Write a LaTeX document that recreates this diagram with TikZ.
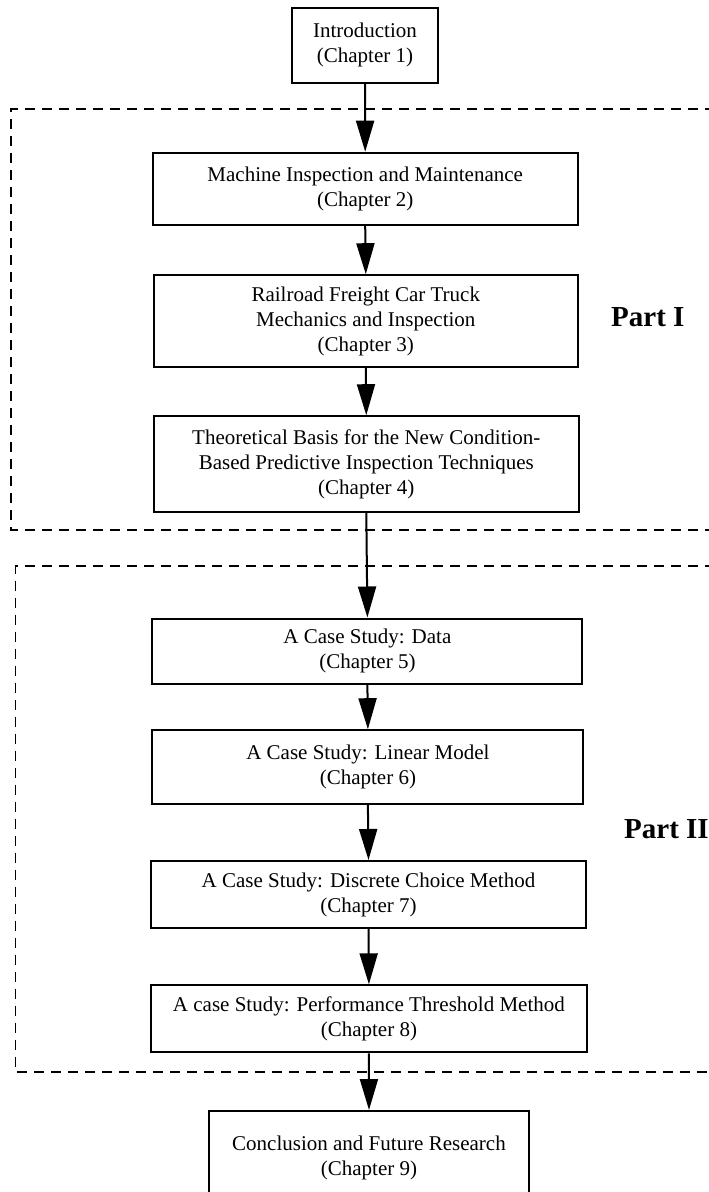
\documentclass[tikz,border=0pt]{standalone}
\usepackage{fontspec}
\setmainfont{Liberation Serif}
\usetikzlibrary{arrows.meta}
\begin{document}
\begin{tikzpicture}[x=1pt,y=-1pt,
  chapbox/.style={draw, line width=2pt, inner sep=0pt, align=center,
    font=\fontsize{21}{25}\selectfont},
  flow/.style={line width=2pt, -{Triangle[length=31pt,width=18pt]}},
  partframe/.style={line width=1.6pt, dash pattern=on 10pt off 7pt},
  partlabel/.style={anchor=base west, inner sep=0pt,
    font=\fontsize{29}{34}\selectfont\bfseries}]
\useasboundingbox (0,0) rectangle (709,1192);

% dashed frames grouping the two parts (open towards the right edge)
\draw[partframe] (715,109) -- (11,109) -- (11,530) -- (715,530);
\draw[partframe] (715,566) -- (15.5,566) -- (15.5,1071.7) -- (715,1071.7);

% chapter boxes
\node[chapbox, minimum width=146pt, minimum height=75pt] (c1) at (365,45)
  {Introduction\\(Chapter 1)};
\node[chapbox, minimum width=425pt, minimum height=72pt] (c2) at (365.2,188.7)
  {Machine Inspection and Maintenance\\(Chapter 2)};
\node[chapbox, minimum width=424pt, minimum height=92pt] (c3) at (365.8,321.2)
  {Railroad Freight Car Truck\\Mechanics and Inspection\\(Chapter 3)};
\node[chapbox, minimum width=425pt, minimum height=96pt] (c4) at (366.3,464.2)
  {Theoretical Basis for the New Condition-\\Based Predictive Inspection Techniques\\(Chapter 4)};
\node[chapbox, minimum width=430pt, minimum height=65pt] (c5) at (367.4,651)
  {A Case Study: Data\\(Chapter 5)};
\node[chapbox, minimum width=431pt, minimum height=74pt] (c6) at (367.9,767.2)
  {A Case Study: Linear Model\\(Chapter 6)};
\node[chapbox, minimum width=435pt, minimum height=67pt] (c7) at (368.5,894.5)
  {A Case Study: Discrete Choice Method\\(Chapter 7)};
\node[chapbox, minimum width=436pt, minimum height=67pt] (c8) at (368.9,1018.8)
  {A case Study: Performance Threshold Method\\(Chapter 8)};
\node[chapbox, minimum width=320pt, minimum height=93pt] (c9) at (369,1157.5)
  {Conclusion and Future Research\\(Chapter 9)};

% part labels
\node[partlabel] (p1) at (611,326.7) {Part I};
\node[partlabel] (p2) at (624,838) {Part II};

% reading order
\draw[flow] (c1.south) -- (c2.north);
\draw[flow] (c2.south) -- (c3.north);
\draw[flow] (c3.south) -- (c4.north);
\draw[flow] (c4.south) -- (c5.north);
\draw[flow] (c5.south) -- (c6.north);
\draw[flow] (c6.south) -- (c7.north);
\draw[flow] (c7.south) -- (c8.north);
\draw[flow] (c8.south) -- (c9.north);
\end{tikzpicture}
\end{document}
